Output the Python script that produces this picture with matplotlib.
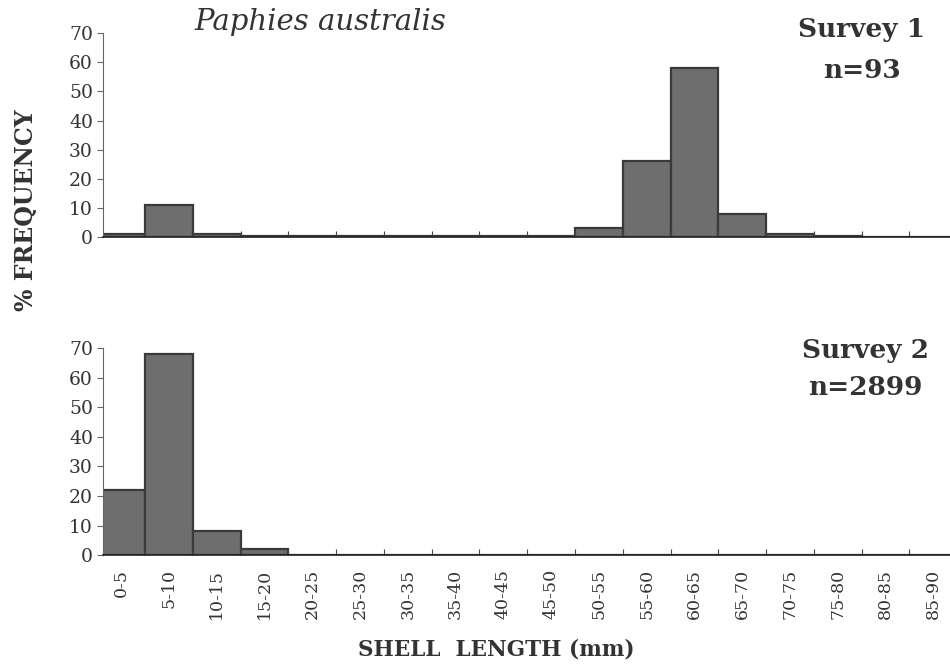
import matplotlib.pyplot as plt
import numpy as np

# size classes (mm)
classes = ["0-5", "5-10", "10-15", "15-20", "20-25", "25-30", "30-35", "35-40",
           "40-45", "45-50", "50-55", "55-60", "60-65", "65-70", "70-75",
           "75-80", "80-85", "85-90"]

# % frequency per size class
survey1 = [1, 11, 1, 0.3, 0.2, 0.2, 0.2, 0.2, 0.2, 0.2, 3, 26, 58, 8, 1, 0.2, 0, 0]
survey2 = [22, 68, 8, 2, 0.2, 0.2, 0.2, 0.2, 0.2, 0.2, 0.2, 0.2, 0.2, 0.2, 0.2, 0.2, 0.2, 0.2]

plt.rcParams['font.family'] = ['DejaVu Serif']
ink = "#333333"

fig = plt.figure(figsize=(9.5, 6.64), dpi=100)
ax1 = fig.add_axes([0.108, 0.643, 0.892, 0.307])
ax2 = fig.add_axes([0.108, 0.164, 0.892, 0.312])

x = np.arange(len(classes))

for ax, vals in [(ax1, survey1), (ax2, survey2)]:
    ax.bar(x, vals, width=1.0, color="#6e6e6e", edgecolor="#3a3a3a", linewidth=1.6)
    ax.set_xlim(-0.39, len(classes) - 0.65)
    ax.set_ylim(0, 70)
    ax.set_yticks(range(0, 71, 10))
    for side in ["top", "right"]:
        ax.spines[side].set_visible(False)
    ax.spines["left"].set_color("#666666")
    ax.spines["left"].set_linewidth(0.8)
    ax.spines["bottom"].set_color("#222222")
    ax.spines["bottom"].set_linewidth(1.2)
    ax.tick_params(axis="y", length=4, width=0.8, color="#666666",
                   labelsize=13.5, labelcolor=ink, pad=3)
    # class boundaries as small inward ticks
    ax.set_xticks(np.arange(0.5, len(classes) - 0.5), minor=True)
    ax.tick_params(axis="x", which="minor", direction="in", length=4, width=0.8,
                   color="#444444")
    ax.tick_params(axis="x", which="major", length=0)

ax1.set_xticks(x)
ax1.set_xticklabels([])
ax2.set_xticks(x)
ax2.set_xticklabels(classes, rotation=90, fontsize=12.5, color=ink)
ax2.tick_params(axis="x", which="major", pad=10)

# survey names and sample sizes
for label, xc, yb in [("Survey 1", 0.907, 0.944), ("n=93", 0.907, 0.882),
                      ("Survey 2", 0.911, 0.461), ("n=2899", 0.911, 0.405)]:
    fig.text(xc, yb, label, ha="center", va="baseline", fontsize=19,
             fontweight="bold", color=ink)

fig.text(0.337, 0.967, "Paphies australis", ha="center", va="center",
         fontsize=21, style="italic", color=ink)
fig.text(0.027, 0.684, "% FREQUENCY", rotation=90, ha="center", va="center",
         fontsize=17, fontweight="bold", color=ink)
fig.text(0.522, 0.022, "SHELL  LENGTH (mm)", ha="center", va="center",
         fontsize=15.5, fontweight="bold", color=ink)

fig.savefig("out.png", dpi=100)
